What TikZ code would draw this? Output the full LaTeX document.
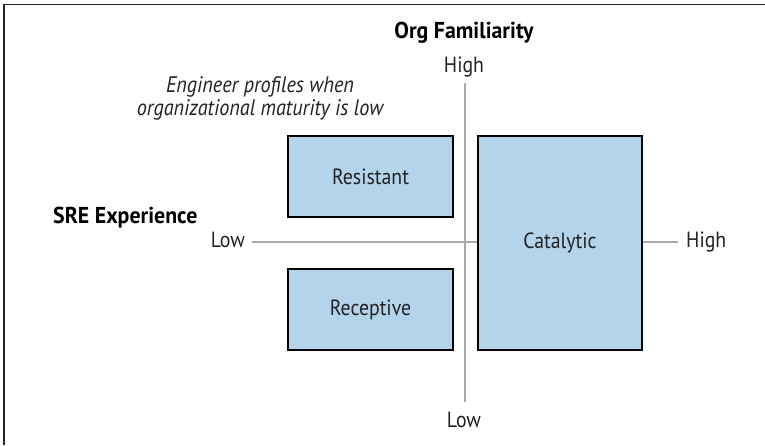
\documentclass[tikz,border=0pt]{standalone}
\usepackage{fontspec}
\setmainfont{PT Sans}[FakeStretch=0.9,BoldFeatures={FakeStretch=0.95}]
\definecolor{boxfill}{HTML}{B3D4EA}
\definecolor{axisgray}{HTML}{AAAAAA}
\definecolor{ink}{HTML}{222222}
\begin{document}
\begin{tikzpicture}[x=1pt,y=-1pt,
  quad/.style={draw=black,line width=2pt,fill=boxfill,inner sep=0pt,text=ink,font=\fontsize{22}{26}\selectfont},
  axis/.style={draw=axisgray,line width=2pt},
  tick/.style={font=\fontsize{22}{26}\selectfont,inner sep=0pt,text=ink},
  title/.style={font=\fontsize{23}{26}\selectfont\bfseries,inner sep=0pt,text=black},
  note/.style={font=\fontsize{22.5}{26}\selectfont\itshape,inner sep=0pt,text=ink,anchor=base}]
\useasboundingbox (0,0) rectangle (765,445);
% cropped frame
\draw[line width=1.5pt,black!85] (4,445) -- (4,4.5) -- (765,4.5);

% axes
\coordinate (vtop) at (465,83);
\coordinate (vbot) at (465,402);
\coordinate (hleft) at (252,242);
\coordinate (hright) at (678,242);
\draw[axis] (vtop) -- (vbot);
\draw[axis] (hleft) -- (hright);

% axis titles and end labels
\node[title,anchor=base] (orgfam) at (464,38) {Org Familiarity};
\node[tick,anchor=base] (vhigh) at (464,72) {High};
\node[tick,anchor=base] (vlow) at (464,427) {Low};
\node[title,anchor=base west] (sre) at (53,223) {SRE Experience};
\node[tick,anchor=base east] (hlow) at (245,247) {Low};
\node[tick,anchor=base west] (hhigh) at (686,247) {High};

% caption above the left quadrants
\node[note] (note1) at (260,92) {Engineer profiles when};
\node[note] (note2) at (260,115) {organizational maturity is low};

% quadrants
\node[quad,minimum width=165pt,minimum height=81pt] (resistant) at (370.5,176.5) {Resistant};
\node[quad,minimum width=165pt,minimum height=81pt] (receptive) at (370.5,309.5) {Receptive};
\node[quad,minimum width=164pt,minimum height=214pt] (catalytic) at (560,243) {Catalytic};
\end{tikzpicture}
\end{document}
